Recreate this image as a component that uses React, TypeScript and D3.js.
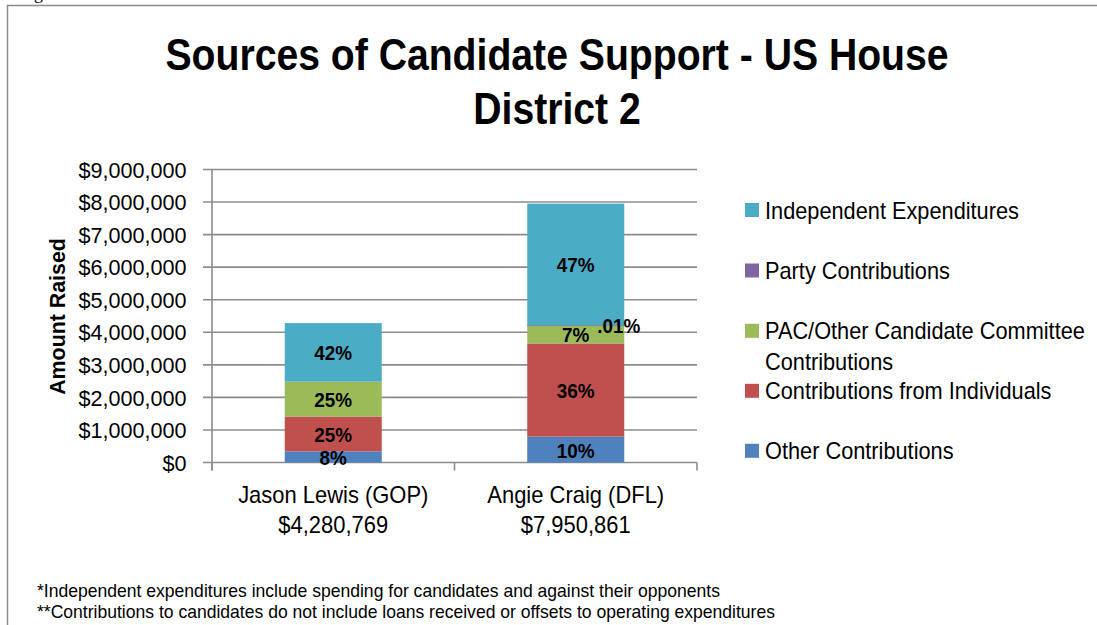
import React from "react";
import * as d3 from "d3";

const candidates = ["Jason Lewis (GOP)", "Angie Craig (DFL)"];
const totals = ["$4,280,769", "$7,950,861"];
const seriesNames = [
  "Other Contributions",
  "Contributions from Individuals",
  "PAC/Other Candidate Committee Contributions",
  "Party Contributions",
  "Independent Expenditures",
];
const seriesColors = ["#4F81BD", "#C0504D", "#9BBB59", "#8064A2", "#4BACC6"];
const otherContrib = [342462, 795086];
const individualContrib = [1070192, 2862310];
const pacContrib = [1070192, 556560];
const partyContrib = [0, 795];
const independentExp = [1797923, 3736110];
const pctLabels = [
  ["8%", "25%", "25%", "", "42%"],
  ["10%", "36%", "7%", ".01%", "47%"],
];
const yTicks = [0, 1000000, 2000000, 3000000, 4000000, 5000000, 6000000, 7000000, 8000000, 9000000];
const legendOrder = [4, 3, 2, 1, 0];
const footnotes = [
  "*Independent expenditures include spending for candidates and against their opponents",
  "**Contributions to candidates do not include loans received or offsets to operating expenditures",
];

const FONT = "'Liberation Sans', Arial, sans-serif";

function T(props: {
  x: number;
  y: number;
  size: number;
  sx?: number;
  bold?: boolean;
  anchor?: "start" | "middle" | "end";
  rotate?: number;
  children: React.ReactNode;
}) {
  const { x, y, size, sx = 0.94, bold, anchor = "start", rotate = 0, children } = props;
  return (
    <text
      transform={`translate(${x},${y})${rotate ? ` rotate(${rotate})` : ""} scale(${sx},1)`}
      textAnchor={anchor}
      fontFamily={FONT}
      fontWeight={bold ? "bold" : "normal"}
      fontSize={size}
      fill="#000"
    >
      {children}
    </text>
  );
}

export default function App() {
  const W = 1097;
  const H = 625;
  const seriesValues = [otherContrib, individualContrib, pacContrib, partyContrib, independentExp];
  const rows = candidates.map((c, i) => {
    const r: any = { cand: c };
    seriesNames.forEach((s, k) => (r[s] = seriesValues[k][i]));
    return r;
  });
  const stack = d3.stack<any>().keys(seriesNames)(rows);

  const x = d3
    .scaleBand<string>()
    .domain(candidates)
    .range([212, 697])
    .paddingInner(0.6)
    .paddingOuter(0.3);
  const step = x.step();
  const y = d3.scaleLinear().domain([0, 9000000]).range([462.5, 169.5]);
  const fmt = d3.format("$,.0f");
  const axisX0 = 212;
  const axisX1 = 697;
  const catTicks = [axisX0, axisX0 + step, axisX0 + 2 * step];

  const legendY = [210, 270.5, 330.8, 390.8, 450.8];
  const grid = "#8c8c8c";

  return (
    <div style={{ position: "absolute", left: 0, top: 0 }}>
      <svg width={W} height={H} style={{ display: "block", background: "#fff" }}>
        <text x={34} y={-1} fontFamily="'Liberation Serif', serif" fontSize={18} fill="#000">
          g
        </text>
        {/* outer frame */}
        <path d={`M7.5,${H} V5.5 H${W}`} fill="none" stroke="#8a8a8a" strokeWidth={1.5} />

        {/* title */}
        <T x={557} y={70} size={44} sx={0.89} bold anchor="middle">
          Sources of Candidate Support - US House
        </T>
        <T x={557} y={124} size={44} sx={0.89} bold anchor="middle">
          District 2
        </T>

        {/* gridlines + y ticks */}
        {yTicks.map((t) => (
          <g key={t}>
            <line x1={203} x2={axisX1} y1={y(t)} y2={y(t)} stroke={grid} strokeWidth={1.6} />
            <T x={186.5} y={y(t) + 8.2} size={22.5} sx={0.96} anchor="end">
              {fmt(t)}
            </T>
          </g>
        ))}
        {/* y axis line */}
        <line x1={axisX0} x2={axisX0} y1={y(9000000)} y2={y(0) + 8} stroke={grid} strokeWidth={1.6} />
        {/* category ticks */}
        {catTicks.map((cx, i) => (
          <line key={i} x1={cx} x2={cx} y1={y(0)} y2={y(0) + 8} stroke={grid} strokeWidth={1.6} />
        ))}

        {/* y axis title */}
        <T x={65} y={316.5} size={23} sx={0.93} bold anchor="middle" rotate={-90}>
          Amount Raised
        </T>

        {/* bars */}
        {stack.map((layer, k) => (
          <g key={layer.key} fill={seriesColors[k]}>
            {layer.map((d, i) => {
              const h = y(d[0]) - y(d[1]);
              if (h <= 0) return null;
              return (
                <rect
                  key={i}
                  x={x(candidates[i])}
                  y={y(d[1])}
                  width={x.bandwidth()}
                  height={Math.max(h, 0.8)}
                />
              );
            })}
          </g>
        ))}

        {/* data labels */}
        {stack.map((layer, k) =>
          layer.map((d, i) => {
            const lab = pctLabels[i][k];
            if (!lab) return null;
            let cx = (x(candidates[i]) as number) + x.bandwidth() / 2;
            let cy = (y(d[0]) + y(d[1])) / 2;
            if (k === 3) {
              cx += 43;
              cy += 0;
            }
            return (
              <T key={`${k}-${i}`} x={cx} y={cy + 8} size={21} sx={0.9} bold anchor="middle">
                {lab}
              </T>
            );
          })
        )}

        {/* category labels */}
        {candidates.map((c, i) => {
          const cx = (x(c) as number) + x.bandwidth() / 2;
          return (
            <g key={c}>
              <T x={cx} y={503} size={23} sx={0.955} anchor="middle">
                {c}
              </T>
              <T x={cx} y={533} size={23} sx={0.955} anchor="middle">
                {totals[i]}
              </T>
            </g>
          );
        })}

        {/* legend */}
        {legendOrder.map((k, j) => {
          const ly = legendY[j];
          const name = seriesNames[k];
          const lines = k === 2 ? ["PAC/Other Candidate Committee", "Contributions"] : [name];
          return (
            <g key={name}>
              <rect x={745} y={ly - 7} width={14} height={14} fill={seriesColors[k]} />
              {lines.map((ln, li) => (
                <T key={li} x={765} y={ly + 8.5 + li * 31} size={23} sx={0.946}>
                  {ln}
                </T>
              ))}
            </g>
          );
        })}

        {/* footnotes */}
        {footnotes.map((f, i) => (
          <text
            key={i}
            x={37}
            y={597 + i * 21}
            fontFamily={FONT}
            fontSize={18.5}
            textLength={i === 0 ? 683 : 738}
            lengthAdjust="spacingAndGlyphs"
            fill="#000"
          >
            {f}
          </text>
        ))}
      </svg>
    </div>
  );
}
